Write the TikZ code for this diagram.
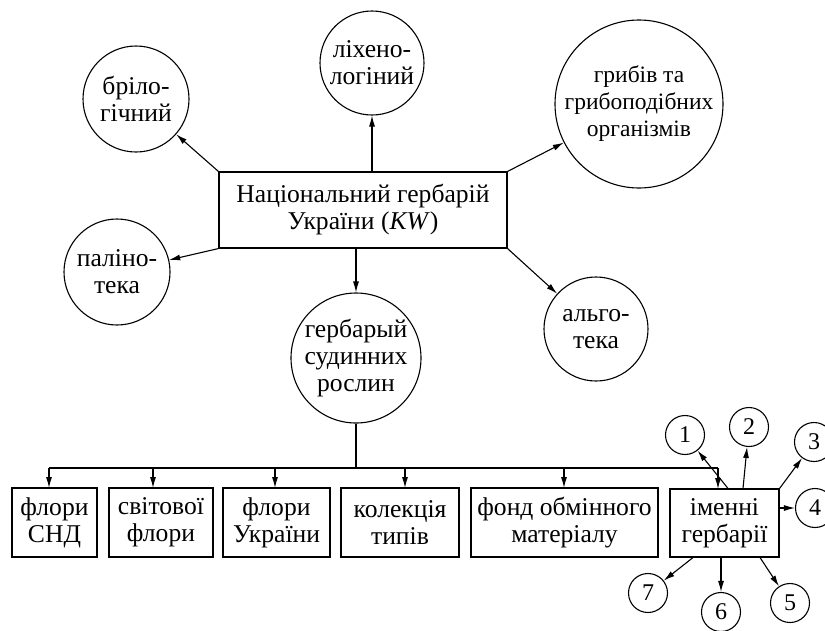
\documentclass[tikz,border=0pt]{standalone}
\usepackage{fontspec}
\setmainfont{Liberation Serif}
\usetikzlibrary{arrows.meta}
\begin{document}
\begin{tikzpicture}[x=1pt,y=-1pt,
  every node/.style={font=\fontsize{25.6}{27}\selectfont, align=center},
  lw/.style={line width=1.1pt},
  circ/.style={lw, draw, circle, inner sep=0pt},
  bx/.style={lw, draw, rectangle, inner sep=0pt},
  arr/.style={lw, -{Latex[length=11pt,width=6pt]}},
  num/.style={lw, draw, circle, inner sep=0pt, minimum size=39pt, font=\fontsize{24}{26}\selectfont}
]
\useasboundingbox (0,0) rectangle (825,630);
% main box
\node[bx, minimum width=288pt, minimum height=76pt] (main) at (363,210) {Національний гербарій\\України (\textit{KW})};
% circles
\node[circ, minimum size=106pt] (bril) at (136,99) {бріло-\\гічний};
\node[circ, minimum size=104pt] (lih) at (372,63) {ліхено-\\логіний};
\node[circ, minimum size=168pt, font=\fontsize{23.5}{27}\selectfont] (grib) at (639,104) {грибів та\\грибоподібних\\організмів};
\node[circ, minimum size=106pt] (pal) at (117,272) {паліно-\\тека};
\node[circ, minimum size=104pt] (alg) at (596,329) {альго-\\тека};
\node[circ, minimum size=130pt] (veg) at (356,358) {гербарый\\судинних\\рослин};
\draw[arr] (main.north west) -- (bril);
\draw[arr] (main.north west -| lih) -- (lih);
\draw[arr] (main.north east) -- (grib);
\draw[arr] (main.south west) -- (pal);
\draw[arr] (main.south east) -- (alg);
\draw[arr] (main.south -| veg) -- (veg);
% bottom boxes
\node[bx, minimum width=85pt, minimum height=69pt] (b1) at (54.5,522.5) {флори\\СНД};
\node[bx, minimum width=104pt, minimum height=69pt] (b2) at (161,522.5) {світової\\флори};
\node[bx, minimum width=107pt, minimum height=69pt] (b3) at (276.5,522.5) {флори\\України};
\node[bx, minimum width=118pt, minimum height=69pt] (b4) at (400,522.5) {колекція\\типів};
\node[bx, minimum width=187pt, minimum height=69pt] (b5) at (564.5,522.5) {фонд обмінного\\матеріалу};
\node[bx, minimum width=109pt, minimum height=68pt] (b6) at (724.5,523) {іменні\\гербарії};
\coordinate (bus) at (356,468);
\draw[lw] (veg.south) -- (bus);
\draw[lw] (49,468) -- (718,468);
\draw[arr] (49,468) -- (49,488);
\draw[arr] (153,468) -- (153,488);
\draw[arr] (275,468) -- (275,488);
\draw[arr] (405,468) -- (405,488);
\draw[arr] (564,468) -- (564,488);
\draw[arr] (718,468) -- (718,489);
% numbered circles
\node[num] (n1) at (685,435) {1};
\node[num] (n2) at (749,427) {2};
\node[num] (n3) at (814,442) {3};
\node[num] (n4) at (815,508) {4};
\node[num] (n5) at (790,603) {5};
\node[num] (n6) at (721,612) {6};
\node[num] (n7) at (648,593) {7};
\draw[arr] ([xshift=3.5pt]b6.north) -- (n1);
\draw[arr] ([xshift=18.5pt]b6.north) -- (n2);
\draw[arr] (b6.north east) -- (n3);
\draw[arr] ([yshift=15pt]b6.east) -- (n4);
\draw[arr] ([xshift=35.5pt]b6.south) -- (n5);
\draw[arr] ([xshift=-3.5pt]b6.south) -- (n6);
\draw[arr] ([xshift=-31.5pt]b6.south) -- (n7);
\end{tikzpicture}
\end{document}
